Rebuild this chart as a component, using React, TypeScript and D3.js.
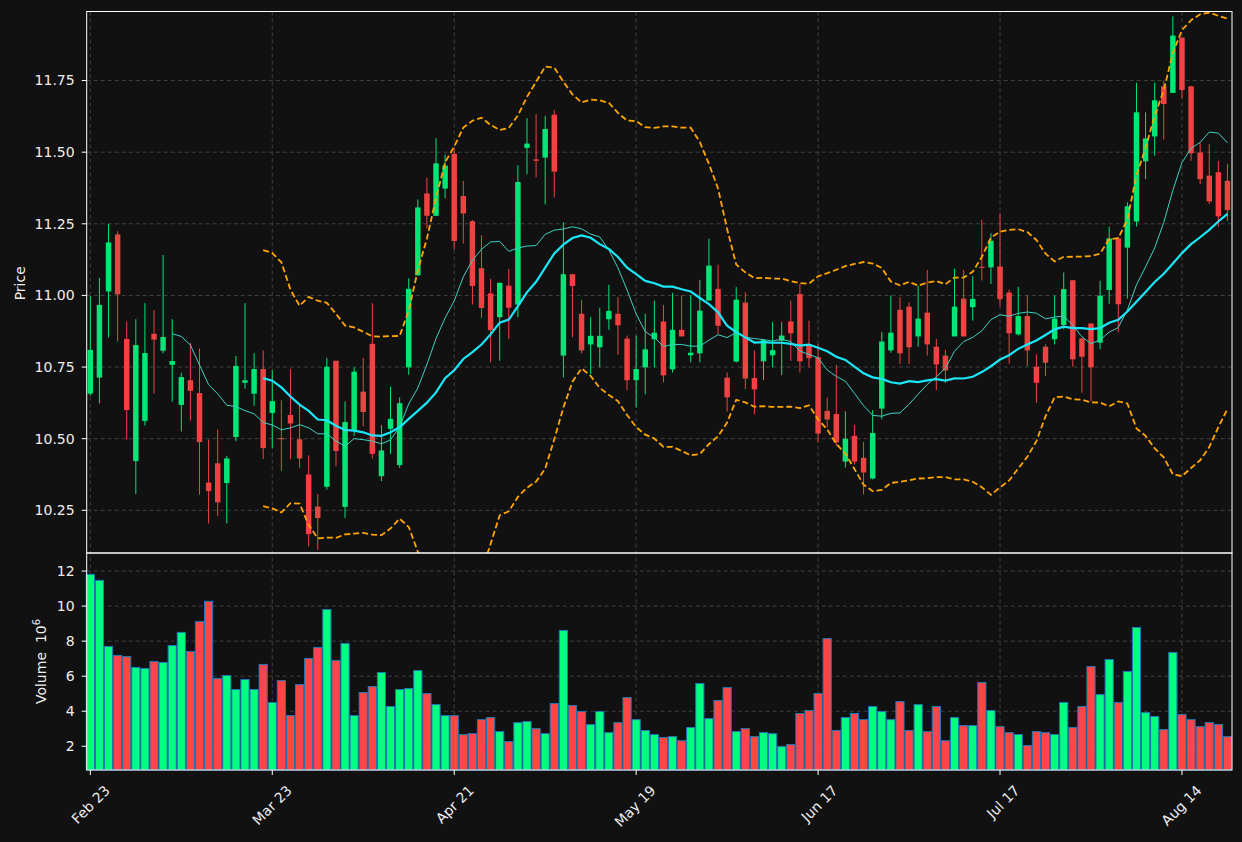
import React from "react";
import * as d3 from "d3";

const tickLabels = ["Feb 23", "Mar 23", "Apr 21", "May 19", "Jun 17", "Jul 17", "Aug 14"];
const tickIndex = [0, 20, 40, 60, 80, 100, 120];
const priceTicks = [10.25, 10.5, 10.75, 11.0, 11.25, 11.5, 11.75];
const volumeTicks = [2, 4, 6, 8, 10, 12];

const opens = [
  10.657, 10.713, 11.014, 11.213, 10.848, 10.422, 10.562, 10.866, 10.807, 10.758,
  10.618, 10.704, 10.659, 10.347, 10.414, 10.345, 10.506, 10.695, 10.657, 10.743,
  10.59, 10.502, 10.583, 10.498, 10.375, 10.263, 10.332, 10.772, 10.262, 10.529,
  10.664, 10.831, 10.369, 10.534, 10.408, 10.749, 11.07, 11.356, 11.278, 11.373,
  11.494, 11.347, 11.259, 11.095, 11.007, 10.924, 11.034, 10.968, 11.515, 11.475,
  11.481, 11.631, 10.79, 11.074, 10.936, 10.829, 10.819, 10.917, 10.936, 10.849,
  10.704, 10.749, 10.847, 10.909, 10.742, 10.88, 10.791, 10.798, 10.982, 11.023,
  10.713, 10.769, 10.975, 10.712, 10.77, 10.791, 10.842, 10.909, 11.005, 10.828,
  10.784, 10.597, 10.586, 10.42, 10.51, 10.433, 10.361, 10.605, 10.808, 10.95,
  10.961, 10.857, 10.94, 10.821, 10.79, 10.857, 10.989, 10.959, 11.1, 11.098,
  11.101, 11.01, 10.864, 10.928, 10.751, 10.821, 10.847, 10.897, 11.053, 10.85,
  10.902, 10.835, 11.019, 11.199, 11.167, 11.258, 11.468, 11.555, 11.73, 11.707,
  11.9, 11.73, 11.499, 11.418, 11.43, 11.4,
];

const highs = [
  10.998, 11.061, 11.25, 11.224, 10.909, 10.917, 10.973, 10.949, 11.141, 10.917,
  10.73, 10.835, 10.815, 10.497, 10.532, 10.44, 10.789, 10.973, 10.798, 10.808,
  10.738, 10.634, 10.743, 10.615, 10.442, 10.307, 10.782, 10.772, 10.63, 10.749,
  10.782, 10.973, 10.547, 10.682, 10.644, 11.06, 11.335, 11.411, 11.549, 11.492,
  11.514, 11.4, 11.263, 11.21, 11.058, 11.044, 11.093, 11.454, 11.619, 11.633,
  11.627, 11.648, 11.255, 11.074, 10.985, 10.924, 10.957, 11.037, 10.994, 10.86,
  10.86, 10.936, 10.982, 10.967, 11.009, 11.0, 11.0, 11.054, 11.198, 11.107,
  10.731, 11.029, 11.011, 10.808, 10.848, 10.907, 10.907, 10.982, 11.04, 10.912,
  10.83, 10.644, 10.757, 10.595, 10.548, 10.488, 10.6, 10.872, 11.0, 10.994,
  10.976, 11.034, 11.089, 10.848, 10.81, 11.093, 11.089, 11.067, 11.264, 11.217,
  11.287, 11.02, 11.03, 11.0, 10.794, 10.829, 11.0, 11.08, 11.053, 10.85,
  10.902, 11.051, 11.24, 11.205, 11.325, 11.742, 11.639, 11.742, 11.75, 11.974,
  11.9, 11.73, 11.534, 11.529, 11.47, 11.459,
];

const lows = [
  10.65, 10.623, 10.853, 10.839, 10.497, 10.307, 10.546, 10.658, 10.798, 10.629,
  10.525, 10.563, 10.304, 10.204, 10.23, 10.204, 10.491, 10.675, 10.615, 10.429,
  10.467, 10.387, 10.428, 10.398, 10.124, 10.112, 10.322, 10.404, 10.223, 10.51,
  10.544, 10.431, 10.352, 10.447, 10.398, 10.723, 11.07, 11.234, 11.278, 11.339,
  11.16, 11.181, 10.968, 10.922, 10.766, 10.772, 10.848, 10.924, 11.423, 11.412,
  11.318, 11.342, 10.714, 10.854, 10.798, 10.725, 10.749, 10.88, 10.793, 10.669,
  10.609, 10.655, 10.749, 10.696, 10.731, 10.857, 10.766, 10.766, 10.982, 10.865,
  10.595, 10.766, 10.673, 10.586, 10.705, 10.749, 10.722, 10.772, 10.731, 10.749,
  10.487, 10.539, 10.475, 10.399, 10.41, 10.306, 10.358, 10.568, 10.8, 10.76,
  10.76, 10.821, 10.79, 10.67, 10.694, 10.857, 10.857, 10.912, 11.052, 11.04,
  10.963, 10.762, 10.86, 10.753, 10.625, 10.719, 10.829, 10.882, 10.751, 10.66,
  10.63, 10.812, 10.971, 10.872, 10.989, 11.24, 11.406, 11.488, 11.544, 11.707,
  11.688, 11.47, 11.389, 11.319, 11.24, 11.26,
];

const closes = [
  10.81, 10.967, 11.185, 11.004, 10.6, 10.827, 10.799, 10.846, 10.855, 10.771,
  10.715, 10.667, 10.488, 10.317, 10.278, 10.431, 10.754, 10.704, 10.743, 10.467,
  10.631, 10.498, 10.553, 10.431, 10.167, 10.223, 10.751, 10.457, 10.558, 10.734,
  10.593, 10.447, 10.459, 10.569, 10.624, 11.023, 11.307, 11.278, 11.461, 11.453,
  11.19, 11.286, 11.033, 10.956, 10.879, 11.044, 10.957, 11.396, 11.53, 11.47,
  11.581, 11.432, 11.074, 11.033, 10.808, 10.859, 10.859, 10.946, 10.896, 10.704,
  10.743, 10.812, 10.87, 10.721, 10.88, 10.857, 10.8, 10.947, 11.104, 10.894,
  10.644, 10.985, 10.71, 10.672, 10.844, 10.809, 10.86, 10.868, 10.77, 10.781,
  10.518, 10.567, 10.487, 10.5, 10.42, 10.382, 10.52, 10.839, 10.87, 10.798,
  10.819, 10.919, 10.829, 10.759, 10.738, 10.961, 10.857, 10.988, 11.096, 11.191,
  10.987, 10.868, 10.928, 10.808, 10.695, 10.765, 10.919, 11.022, 10.777, 10.786,
  10.749, 10.999, 11.199, 10.969, 11.311, 11.639, 11.548, 11.681, 11.668, 11.907,
  11.717, 11.496, 11.406, 11.328, 11.276, 11.298,
];

// millions
const volumes = [
  11.81, 11.47, 7.7, 7.18, 7.12, 6.5, 6.44, 6.84, 6.78, 7.75,
  8.5, 7.41, 9.12, 10.27, 5.87, 6.04, 5.24, 5.81, 5.24, 6.67,
  4.5, 5.75, 3.75, 5.52, 7.01, 7.64, 9.81, 6.9, 7.87, 3.75,
  5.07, 5.41, 6.21, 4.27, 5.24, 5.3, 6.32, 5.01, 4.38, 3.75,
  3.75, 2.67, 2.72, 3.52, 3.64, 2.84, 2.27, 3.35, 3.41, 3.01,
  2.72, 4.44, 8.61, 4.32, 3.98, 3.24, 3.98, 2.78, 3.35, 4.78,
  3.52, 2.9, 2.67, 2.5, 2.55, 2.32, 3.07, 5.58, 3.58, 4.61,
  5.35, 2.84, 3.01, 2.55, 2.78, 2.72, 1.98, 2.1, 3.87, 4.04,
  5.01, 8.15, 2.9, 3.64, 3.87, 3.52, 4.27, 3.98, 3.52, 4.55,
  2.9, 4.38, 2.84, 4.27, 2.32, 3.64, 3.18, 3.18, 5.64, 4.04,
  3.12, 2.78, 2.67, 2.04, 2.84, 2.78, 2.67, 4.5, 3.07, 4.27,
  6.55, 4.95, 6.95, 4.5, 6.27, 8.78, 3.92, 3.7, 2.95, 7.35,
  3.81, 3.52, 3.12, 3.35, 3.24, 2.55,
];

const rollMean = (n: number) =>
  closes.map((_, i) => (i < n - 1 ? null : d3.mean(closes.slice(i - n + 1, i + 1))!));
const ma10 = rollMean(10);
const ma20 = rollMean(20);
const sd20 = closes.map((_, i) => {
  if (i < 19) return null;
  const w = closes.slice(i - 19, i + 1);
  const m = d3.mean(w)!;
  return Math.sqrt(d3.mean(w, (v) => (v - m) ** 2)!);
});
const bbUpper = ma20.map((m, i) => (m == null ? null : m + 2 * sd20[i]!));
const bbLower = ma20.map((m, i) => (m == null ? null : m - 2 * sd20[i]!));

const W = 1242;
const H = 842;
const left = 86.7;
const right = 1232;
const top = 11.5;
const mid = 553;
const bottom = 770;

const BG = "#111111";
const UP = "#00e676";
const DOWN = "#f04242";
const VUP = "#00ff80";
const VDOWN = "#ff4545";
const GRID = "#404040";
const TXT = "#eeeeee";
const FONT = "DejaVu Sans, sans-serif";

export default function App() {
  const x = d3.scaleLinear().domain([-0.4, 125.5]).range([left, right]);
  const yP = d3.scaleLinear().domain([10.101, 11.991]).range([mid, top]);
  const yV = d3.scaleLinear().domain([0.646, 13.03]).range([bottom, mid]);
  const step = x(1) - x(0);
  const bodyW = step * 0.6;
  const barW = step * 0.9;

  const line = d3
    .line<number | null>()
    .defined((d) => d != null)
    .x((_, i) => x(i))
    .y((d) => yP(d as number));

  const up = (i: number) => closes[i] >= opens[i];

  return (
    <svg
      width={W}
      height={H}
      style={{ position: "absolute", left: 0, top: 0, display: "block" }}
      fontFamily={FONT}
    >
      <defs>
        <clipPath id="priceClip">
          <rect x={left} y={top} width={right - left} height={mid - top} />
        </clipPath>
      </defs>
      <rect width={W} height={H} fill={BG} />

      {/* grid */}
      <g stroke={GRID} strokeWidth={1} strokeDasharray="4,3">
        {priceTicks.map((t) => (
          <line key={"pg" + t} x1={left} x2={right} y1={yP(t)} y2={yP(t)} />
        ))}
        {volumeTicks.map((t) => (
          <line key={"vg" + t} x1={left} x2={right} y1={yV(t)} y2={yV(t)} />
        ))}
        {tickIndex.map((t) => (
          <line key={"xg" + t} x1={x(t)} x2={x(t)} y1={top} y2={bottom} />
        ))}
      </g>

      {/* candles */}
      <g clipPath="url(#priceClip)">
        {closes.map((c, i) => {
          const col = up(i) ? UP : DOWN;
          const yTop = yP(Math.max(opens[i], c));
          const yBot = yP(Math.min(opens[i], c));
          return (
            <g key={"c" + i}>
              <line x1={x(i)} x2={x(i)} y1={yP(highs[i])} y2={yP(lows[i])} stroke={col} strokeWidth={1} />
              <rect
                x={x(i) - bodyW / 2}
                y={yTop}
                width={bodyW}
                height={Math.max(1, yBot - yTop)}
                fill={col}
              />
            </g>
          );
        })}
        <path d={line(ma10) ?? ""} fill="none" stroke="#3fd0c4" strokeWidth={1} />
        <path d={line(ma20) ?? ""} fill="none" stroke="#1ae8f8" strokeWidth={2.2} />
        <path d={line(bbUpper) ?? ""} fill="none" stroke="#ffa500" strokeWidth={1.8} strokeDasharray="6,3" />
        <path d={line(bbLower) ?? ""} fill="none" stroke="#ffa500" strokeWidth={1.8} strokeDasharray="6,3" />
      </g>

      {/* volume */}
      <g>
        {volumes.map((v, i) => (
          <rect
            key={"v" + i}
            x={x(i) - barW / 2}
            y={yV(v)}
            width={barW}
            height={bottom - yV(v)}
            fill={up(i) ? VUP : VDOWN}
            stroke="#1f77b4"
            strokeWidth={1}
          />
        ))}
      </g>

      {/* frames */}
      <g fill="none" stroke="#ffffff" strokeWidth={1}>
        <rect x={left} y={top} width={right - left} height={mid - top} />
        <rect x={left} y={mid} width={right - left} height={bottom - mid} />
      </g>

      {/* y ticks */}
      <g fill={TXT} fontSize={14} textAnchor="end">
        {priceTicks.map((t) => (
          <g key={"pt" + t}>
            <line x1={left - 5} x2={left} y1={yP(t)} y2={yP(t)} stroke="#fff" />
            <text x={left - 12} y={yP(t)} dy="0.35em">
              {d3.format(".2f")(t)}
            </text>
          </g>
        ))}
        {volumeTicks.map((t) => (
          <g key={"vt" + t}>
            <line x1={left - 5} x2={left} y1={yV(t)} y2={yV(t)} stroke="#fff" />
            <text x={left - 12} y={yV(t)} dy="0.35em">
              {t}
            </text>
          </g>
        ))}
      </g>

      {/* x ticks */}
      <g fill={TXT} fontSize={14} textAnchor="end">
        {tickIndex.map((t, k) => (
          <g key={"xt" + t}>
            <line x1={x(t)} x2={x(t)} y1={bottom} y2={bottom + 5} stroke="#fff" />
            <text transform={`translate(${x(t) + 17},${bottom + 18}) rotate(-45)`} dy="0.35em">
              {tickLabels[k]}
            </text>
          </g>
        ))}
      </g>

      {/* axis labels */}
      <text transform={`translate(25,${(top + mid) / 2 + 1}) rotate(-90)`} textAnchor="middle" fill={TXT} fontSize={14}>
        Price
      </text>
      <text
        transform={`translate(45.5,${(mid + bottom) / 2}) rotate(-90)`}
        textAnchor="middle"
        fill={TXT}
        fontSize={14}
        style={{ whiteSpace: "pre" }}
      >
        {"Volume  10"}
        <tspan fontSize={10} dy="-0.55em">
          6
        </tspan>
      </text>
    </svg>
  );
}
